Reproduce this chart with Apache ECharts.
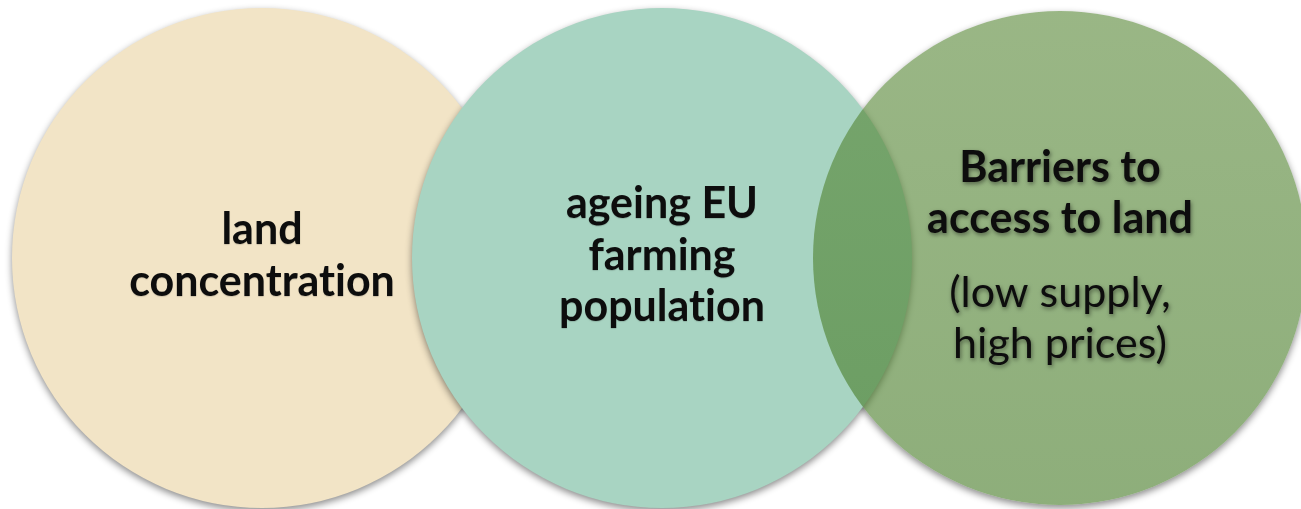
<!DOCTYPE html>
<html>
<head>
<meta charset="utf-8">
<style>
  html, body { margin: 0; padding: 0; background: #fff; }
  #chart { width: 1301px; height: 509px; }
</style>
<script src="https://cdn.jsdelivr.net/npm/echarts@6/dist/echarts.min.js"></script>
</head>
<body>
<div id="chart"></div>
<script>
// circles of the diagram (data units = pixels of the reference)
const centerX = [262, 662, 1060]
const centerY = [258, 258, 258]
const radius = [250, 250, 247]
// text inside each circle
const boldLines = [
  ['land', 'concentration'],
  ['ageing EU', 'farming', 'population'],
  ['Barriers to', 'access to land']
]
const plainLines = [
  [],
  [],
  ['(low supply,', 'high prices)']
]

const fills = [
  '#F2E4C6',
  '#A8D4C2',
  new echarts.graphic.LinearGradient(0, 0, 0, 1, [
    { offset: 0, color: 'rgba(86,134,52,0.6)' },
    { offset: 1, color: 'rgba(66,120,34,0.6)' }
  ])
]
// paint order of the discs: the see-through green one sits on a white base
// drawn under the teal disc so its shadow only shows outside
const discZ = [0, 2, 4]

const chart = echarts.init(document.getElementById('chart'))

const lineGap = 51.5
const blockGap = 22

function renderItem (params, api) {
  const i = params.dataIndex
  const c = api.coord([api.value(0), api.value(1)])
  const r = api.size([api.value(2), api.value(2)])[0]
  const lines = boldLines[i].map(t => ({ t, bold: true }))
    .concat(plainLines[i].map(t => ({ t, bold: false })))
  const offs = []
  let y = 0
  lines.forEach((l, k) => {
    if (k > 0) y += lineGap + (!l.bold && lines[k - 1].bold ? blockGap : 0)
    offs.push(y)
  })
  const mid = (offs[0] + offs[offs.length - 1]) / 2
  const shadowed = i === 2
  const shadow = { shadowBlur: 7, shadowOffsetY: 3, shadowColor: 'rgba(0,0,0,0.45)' }
  const children = []
  if (i === 2) {
    children.push({
      type: 'circle',
      z2: 1,
      shape: { cx: c[0], cy: c[1], r },
      style: Object.assign({ fill: '#fff' }, shadow)
    })
    children.push({
      type: 'circle',
      z2: discZ[i],
      shape: { cx: c[0], cy: c[1], r },
      style: { fill: fills[i] }
    })
  } else {
    children.push({
      type: 'circle',
      z2: discZ[i],
      shape: { cx: c[0], cy: c[1], r },
      style: Object.assign({ fill: fills[i] }, shadow)
    })
  }
  lines.forEach((l, k) => {
    children.push({
      type: 'text',
      z2: 10,
      style: {
        // keep "t" and "i" as separate glyphs
        text: l.t.replace(/ti/g, 't\u200Ci'),
        x: c[0],
        y: c[1] - 2 + offs[k] - mid,
        align: 'center',
        verticalAlign: 'middle',
        fill: '#0d0d0d',
        font: (l.bold ? 'bold ' : '') + '43px Lato',
        textShadowBlur: shadowed ? 4 : 1,
        textShadowOffsetX: shadowed ? 1 : 0,
        textShadowOffsetY: shadowed ? 2 : 1,
        textShadowColor: shadowed ? 'rgba(0,0,0,0.45)' : 'rgba(0,0,0,0.15)'
      }
    })
  })
  return { type: 'group', children }
}

chart.setOption({
  animation: false,
  grid: { left: 0, right: 0, top: 0, bottom: 0 },
  xAxis: { type: 'value', min: 0, max: 1301, show: false },
  yAxis: { type: 'value', min: 0, max: 509, inverse: true, show: false },
  series: [{
    type: 'custom',
    renderItem,
    clip: false,
    data: centerX.map((x, i) => [x, centerY[i], radius[i]])
  }]
})
</script>
</body>
</html>
